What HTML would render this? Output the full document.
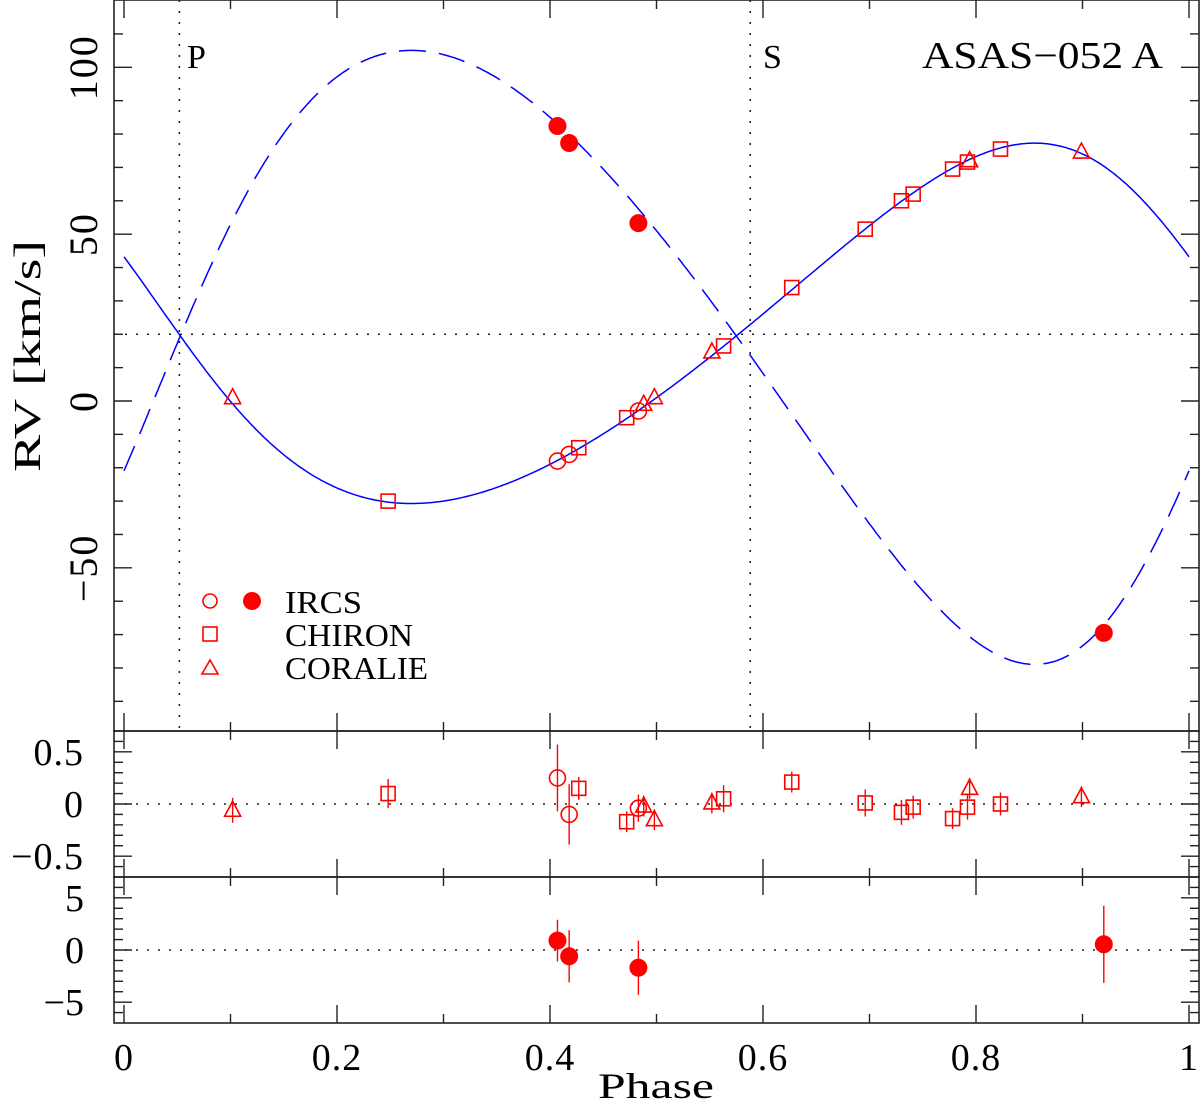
<!DOCTYPE html>
<html><head><meta charset="utf-8"><style>
html,body{margin:0;padding:0;background:#fff;}
svg{display:block;font-family:"Liberation Serif",serif;}
</style></head><body>
<svg id="chart" width="1200" height="1102" viewBox="0 0 1200 1102" xmlns="http://www.w3.org/2000/svg">
<g id="frame"></g>
<g id="curves"></g>
<g id="marks"></g>
<text x="922" y="68" font-size="38" textLength="241" lengthAdjust="spacingAndGlyphs">ASAS−052 A</text>
<text x="187" y="68" font-size="34">P</text>
<text x="763" y="68" font-size="34">S</text>
<text transform="translate(40,356) rotate(-90)" text-anchor="middle" font-size="38" textLength="232" lengthAdjust="spacingAndGlyphs">RV [km/s]</text>
<text x="598" y="1098" font-size="36" textLength="116" lengthAdjust="spacingAndGlyphs">Phase</text>
<g>
<circle cx="210" cy="601" r="7" fill="none" stroke="#f00" stroke-width="1.6"/>
<circle cx="252" cy="601" r="9" fill="#f00"/>
<text x="285" y="613" font-size="32" textLength="77" lengthAdjust="spacingAndGlyphs">IRCS</text>
<rect x="203" y="627" width="14" height="14" fill="none" stroke="#f00" stroke-width="1.6"/>
<text x="285" y="646" font-size="32" textLength="128" lengthAdjust="spacingAndGlyphs">CHIRON</text>
<path d="M202,674 L218,674 L210,660 Z" fill="none" stroke="#f00" stroke-width="1.6"/>
<text x="285" y="679" font-size="32" textLength="143" lengthAdjust="spacingAndGlyphs">CORALIE</text>
</g>
</svg>
<script>
// ---- data ----
const ircsPhase = [0.407, 0.418, 0.483];
const ircsRV1 = [-18, -16, -3];
const ircsRes1 = [0.25, -0.10, -0.04];
const ircsErr1 = [0.32, 0.29, 0.13];
const ircs2Phase = [0.407, 0.418, 0.483, 0.920];
const ircsRV2 = [82.4, 77.3, 53.3, -69.5];
const ircsRes2 = [0.9, -0.6, -1.7, 0.55];
const ircsErr2 = [2.0, 2.5, 2.6, 3.7];
const chironPhase = [0.248, 0.427, 0.472, 0.563, 0.627, 0.696, 0.730, 0.741, 0.778, 0.792, 0.823];
const chironRV = [-30, -14, -5, 16.5, 34, 51.5, 60, 62, 69.5, 71.6, 75.5];
const chironRes = [0.10, 0.15, -0.17, 0.05, 0.21, 0.01, -0.08, -0.03, -0.14, -0.03, 0.0];
const chironErr = [0.14, 0.11, 0.10, 0.13, 0.10, 0.13, 0.12, 0.11, 0.10, 0.12, 0.11];
const coraliePhase = [0.102, 0.488, 0.498, 0.552, 0.794, 0.899];
const coralieRV = [1, -1, 1, 14.7, 72, 74.6];
const coralieRes = [-0.06, -0.02, -0.15, 0.01, 0.15, 0.07];
const coralieErr = [0.12, 0.10, 0.10, 0.10, 0.10, 0.10];
const xTicks = [0, 0.2, 0.4, 0.6, 0.8, 1];
const xTickLabels = ["0", "0.2", "0.4", "0.6", "0.8", "1"];
const topTicks = [-50, 0, 50, 100];
const midTicks = [-0.5, 0, 0.5];
const midTickLabels = ["−0.5", "0", "0.5"];
const botTicks = [-5, 0, 5];
const botTickLabels = ["−5", "0", "5"];
// orbit parameters
const gamma = 19.5, K1 = 54, K2 = 92, ecc = 0.151, omegaDeg = 62.4, phasePeri = -0.012;
const gammaLine = 20;
const eclP = 0.052, eclS = 0.588;

const NS = "http://www.w3.org/2000/svg";
const X = p => 124 + p * 1065;
const Ytop = v => 401 - v * 3.337;
const Ymid = v => 804 - v * 104.3;
const Ybot = v => 950 - v * 10.43;
function mk(tag, attrs, parent) {
  const e = document.createElementNS(NS, tag);
  for (const k in attrs) e.setAttribute(k, attrs[k]);
  parent.appendChild(e);
  return e;
}
const frame = document.getElementById('frame');
const curves = document.getElementById('curves');
const marks = document.getElementById('marks');
const INK = "#222";

const panels = [[0, 731], [731, 877], [877, 1023]];
panels.forEach((pp, i) => {
  const r = mk('rect', {x: 114, y: pp[0], width: 1085, height: pp[1] - pp[0], fill: 'none', stroke: INK, 'stroke-width': 1.6}, frame);
  
  
  for (let k = 0; k <= 10; k++) {
    const p = k / 10, len = (k % 2 === 0) ? 18 : 9, x = X(p);
    mk('line', {x1: x, y1: pp[0], x2: x, y2: pp[0] + len, stroke: INK, 'stroke-width': 1.4}, frame);
    mk('line', {x1: x, y1: pp[1], x2: x, y2: pp[1] - len, stroke: INK, 'stroke-width': 1.4}, frame);
  }
});
xTicks.forEach((t, i) => {
  const tx = mk('text', {x: X(t), y: 1070, 'text-anchor': 'middle', 'font-size': 38, 'letter-spacing': 1}, frame);
  tx.textContent = xTickLabels[i];
  
  
});
function yTicks(min, max, step, majorEvery, Y, y0, y1) {
  const n0 = Math.ceil(min / step), n1 = Math.floor(max / step);
  for (let n = n0; n <= n1; n++) {
    const y = Y(n * step);
    if (y < y0 + 1 || y > y1 - 1) continue;
    const len = (n % majorEvery === 0) ? 18 : 9;
    mk('line', {x1: 114, y1: y, x2: 114 + len, y2: y, stroke: INK, 'stroke-width': 1.4}, frame);
    mk('line', {x1: 1199, y1: y, x2: 1199 - len, y2: y, stroke: INK, 'stroke-width': 1.4}, frame);
  }
}
yTicks(-110, 130, 10, 5, Ytop, 0, 731);
yTicks(-0.7, 0.7, 0.1, 5, Ymid, 731, 877);
yTicks(-7, 7, 1, 5, Ybot, 877, 1023);
topTicks.forEach(t => {
  const tx = mk('text', {transform: `translate(97,${Ytop(t)}) rotate(-90)`, 'text-anchor': 'middle', 'font-size': 40, 'letter-spacing': 2}, frame);
  tx.textContent = t < 0 ? "−" + Math.abs(t) : String(t);
  
  
});
midTicks.forEach((t, i) => {
  const tx = mk('text', {x: 84, y: Ymid(t) + 13, 'text-anchor': 'end', 'font-size': 38, 'letter-spacing': 1}, frame);
  tx.textContent = midTickLabels[i];
  
  
});
botTicks.forEach((t, i) => {
  const tx = mk('text', {x: 84, y: Ybot(t) + 13, 'text-anchor': 'end', 'font-size': 38}, frame);
  tx.textContent = botTickLabels[i];
  
  
});
const dot = {stroke: INK, 'stroke-width': 1.6, 'stroke-dasharray': '2 9', fill: 'none'};
let l;
l = mk('line', Object.assign({x1: 114, x2: 1199, y1: Ytop(gammaLine), y2: Ytop(gammaLine)}, dot), frame);
 
l = mk('line', Object.assign({x1: X(eclP), x2: X(eclP), y1: 0, y2: 731}, dot), frame);
 
l = mk('line', Object.assign({x1: X(eclS), x2: X(eclS), y1: 0, y2: 731}, dot), frame);
 
l = mk('line', Object.assign({x1: 114, x2: 1199, y1: Ymid(0), y2: Ymid(0)}, dot), frame);
 
l = mk('line', Object.assign({x1: 114, x2: 1199, y1: Ybot(0), y2: Ybot(0)}, dot), frame);
 

const w = omegaDeg * Math.PI / 180;
function nuAt(p) {
  const M = 2 * Math.PI * (p - phasePeri);
  let E = M;
  for (let i = 0; i < 30; i++) E = E - (E - ecc * Math.sin(E) - M) / (1 - ecc * Math.cos(E));
  return 2 * Math.atan2(Math.sqrt(1 + ecc) * Math.sin(E / 2), Math.sqrt(1 - ecc) * Math.cos(E / 2));
}
let d1 = "", d2 = "";
for (let i = 0; i <= 600; i++) {
  const p = i / 600, nu = nuAt(p);
  const c = Math.cos(nu + w) + ecc * Math.cos(w);
  const v1 = gamma + K1 * c, v2 = gamma - K2 * c;
  d1 += (i ? "L" : "M") + X(p).toFixed(1) + "," + Ytop(v1).toFixed(1);
  d2 += (i ? "L" : "M") + X(p).toFixed(1) + "," + Ytop(v2).toFixed(1);
}
l = mk('path', {d: d1, stroke: '#00f', 'stroke-width': 1.5, fill: 'none'}, curves);
 
l = mk('path', {d: d2, stroke: '#00f', 'stroke-width': 1.5, fill: 'none', 'stroke-dasharray': '27 13'}, curves);
 

const RED = "#f00";
function marker(type, x, y, parent) {
  let e;
  if (type === 'circle') e = mk('circle', {cx: x, cy: y, r: 8, fill: 'none', stroke: RED, 'stroke-width': 1.6}, parent);
  else if (type === 'filled') e = mk('circle', {cx: x, cy: y, r: 9, fill: RED}, parent);
  else if (type === 'square') e = mk('rect', {x: x - 7, y: y - 7, width: 14, height: 14, fill: 'none', stroke: RED, 'stroke-width': 1.6}, parent);
  else e = mk('path', {d: `M${x - 8},${y + 6} L${x + 8},${y + 6} L${x},${y - 9} Z`, fill: 'none', stroke: RED, 'stroke-width': 1.6}, parent);
  return e;
}
function errbar(x, y0, y1) {
  const e = mk('line', {x1: x, x2: x, y1: y0, y2: y1, stroke: RED, 'stroke-width': 1.4}, marks);
  
  
}
function series(type, ph, rv, Y, name) {
  ph.forEach((p, i) => {
    const e = marker(type, X(p), Y(rv[i]), marks);
    
    
  });
}
function resid(type, ph, res, err, Y, name) {
  ph.forEach((p, i) => {
    errbar(X(p), Y(res[i] - err[i]), Y(res[i] + err[i]));
    const e = marker(type, X(p), Y(res[i]), marks);
    
    
  });
}
series('square', chironPhase, chironRV, Ytop, 'chiron-rv-point');
series('triangle', coraliePhase, coralieRV, Ytop, 'coralie-rv-point');
series('circle', ircsPhase, ircsRV1, Ytop, 'ircs-primary-rv-point');
series('filled', ircs2Phase, ircsRV2, Ytop, 'ircs-secondary-rv-point');
resid('square', chironPhase, chironRes, chironErr, Ymid, 'chiron-residual');
resid('triangle', coraliePhase, coralieRes, coralieErr, Ymid, 'coralie-residual');
resid('circle', ircsPhase, ircsRes1, ircsErr1, Ymid, 'ircs-primary-residual');
resid('filled', ircs2Phase, ircsRes2, ircsErr2, Ybot, 'ircs-secondary-residual');
</script>
</body></html>
